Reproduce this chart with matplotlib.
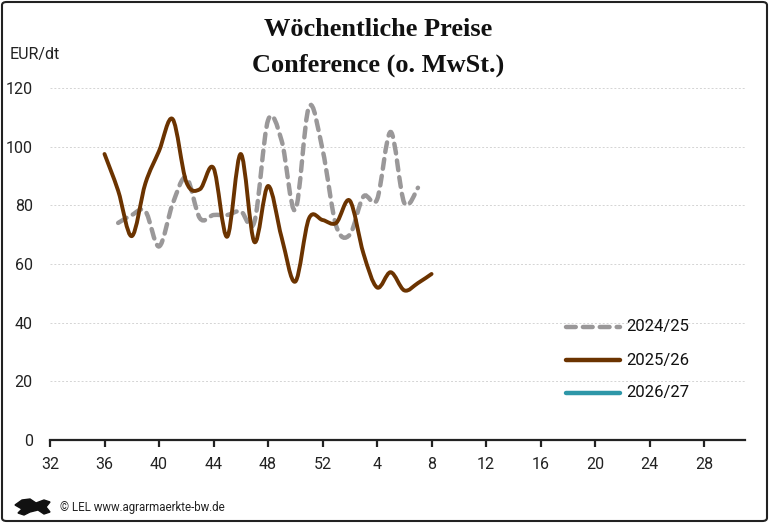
import numpy as np
import matplotlib
matplotlib.use("Agg")
import matplotlib.pyplot as plt
from matplotlib.path import Path
from matplotlib.patches import PathPatch, FancyBboxPatch, Polygon
from matplotlib.lines import Line2D

# season axis: week 32 .. 52, 1 .. 31
tick_labels = ["32", "36", "40", "44", "48", "52", "4", "8", "12", "16", "20", "24", "28"]
tick_pos = [0, 4, 8, 12, 16, 20, 24, 28, 32, 36, 40, 44, 48]

weeks_2425 = [37, 38, 39, 40, 41, 42, 43, 44, 45, 46, 47, 48, 49, 50, 51, 52, 1, 2, 3, 4, 5, 6, 7]
vals_2425 = [74, 76.7, 78, 66, 80.5, 89.5, 75.6, 76.7, 76.7, 78, 74.4, 109, 102, 78.4,
             113.6, 99, 73, 70, 83, 82, 105, 80.8, 86]

weeks_2526 = [36, 37, 38, 39, 40, 41, 42, 43, 44, 45, 46, 47, 48, 49, 50, 51, 52, 1, 2, 3, 4, 5, 6, 7, 8]
vals_2526 = [97.5, 85, 69.5, 87.5, 98.5, 109.4, 88, 85.5, 92.7, 69.3, 97.5, 67.5, 86.6, 69,
             54, 75.5, 75, 74, 81.6, 63.6, 52, 57.2, 51, 53.5, 56.6]

weeks_2627 = []
vals_2627 = []

col_2425 = "#9a9899"
col_2526 = "#6b3300"
col_2627 = "#2e97a8"


def season_idx(weeks):
    return [w - 32 if w >= 32 else w + 20 for w in weeks]


def smooth_path(x, y):
    # Excel-like smoothed line as cubic bezier segments
    pts = np.column_stack([x, y]).astype(float)
    n = len(pts)
    verts = [pts[0]]
    codes = [Path.MOVETO]
    for i in range(n - 1):
        p0 = pts[i - 1] if i > 0 else pts[i]
        p1 = pts[i]
        p2 = pts[i + 1]
        p3 = pts[i + 2] if i + 2 < n else pts[i + 1]
        c1 = p1 + (p2 - p0) / 6.0
        c2 = p2 - (p3 - p1) / 6.0
        verts += [c1, c2, p2]
        codes += [Path.CURVE4] * 3
    return Path(verts, codes)


fig = plt.figure(figsize=(7.69, 5.23), dpi=100)
ax = fig.add_axes([50 / 769, 1 - 440 / 523, 695 / 769, 352 / 523])
ax.set_xlim(0, 51)
ax.set_ylim(0, 120)

for s in ["top", "right", "left"]:
    ax.spines[s].set_visible(False)
ax.spines["bottom"].set_color("#222222")
ax.spines["bottom"].set_linewidth(1.6)
ax.set_yticks([0, 20, 40, 60, 80, 100, 120])
ax.set_yticklabels(["0", "20", "40", "60", "80", "100", "120"], fontsize=11.5, family="Roboto", color="#222222")
ax.tick_params(axis="y", length=0, pad=12.5)
ax.set_xticks(tick_pos)
ax.set_xticklabels(tick_labels, fontsize=11.5, family="Roboto", color="#222222")
ax.tick_params(axis="x", length=5, width=1.6, color="#222222", pad=7.5)
for yv in [20, 40, 60, 80, 100, 120]:
    ax.axhline(yv, color="#d4d4d4", lw=0.7, ls=(0, (2, 2)), zorder=0)

p1 = PathPatch(smooth_path(season_idx(weeks_2425), vals_2425), fill=False, edgecolor=col_2425,
               lw=3.2, linestyle=(0, (2.2, 1.6)), capstyle="round", clip_on=False, zorder=3)
ax.add_patch(p1)
p2 = PathPatch(smooth_path(season_idx(weeks_2526), vals_2526), fill=False, edgecolor=col_2526,
               lw=2.8, capstyle="round", joinstyle="round", clip_on=False, zorder=4)
ax.add_patch(p2)

# legend
leg = [("2024/25", col_2425, (0, (2.2, 1.6)), 327), ("2025/26", col_2526, "-", 360), ("2026/27", col_2627, "-", 393)]
for lab, c, ls, py in leg:
    yy = 1 - py / 523
    fig.add_artist(Line2D([566 / 769, 620 / 769], [yy, yy], color=c, lw=3.2, ls=ls, solid_capstyle="round",
                          dash_capstyle="round"))
    fig.text(626 / 769, yy, lab, fontsize=12, family="Roboto", va="center", ha="left", color="#111111")

# titles
fig.text(378 / 769, 1 - 30 / 523, "Wöchentliche Preise", fontsize=19, family="Liberation Serif",
         weight="bold", ha="center", va="center", color="#111111")
fig.text(378 / 769, 1 - 65 / 523, "Conference (o. MwSt.)", fontsize=19, family="Liberation Serif",
         weight="bold", ha="center", va="center", color="#111111")
fig.text(10 / 769, 1 - 55 / 523, "EUR/dt", fontsize=11.5, family="Roboto", ha="left", va="center", color="#222222")

# footer
fig.text(60 / 769, 1 - 508 / 523, "© LEL www.agrarmaerkte-bw.de", fontsize=8.3,
         family="Roboto", ha="left", va="center", color="#222222")
lion = [(15, 505), (22, 500), (30, 499), (36, 503), (44, 500), (50, 502), (46, 507), (50, 512),
        (44, 514), (38, 510), (30, 512), (24, 515), (18, 513), (22, 509)]
fig.add_artist(Polygon([(x / 769, 1 - y / 523) for x, y in lion], closed=True, color="#111111",
                       transform=fig.transFigure))

# frame
fig.add_artist(FancyBboxPatch((2 / 769, 2 / 523), 765 / 769, 519 / 523, boxstyle="round,pad=0,rounding_size=0.006",
                              fill=False, edgecolor="#222222", lw=1.5, transform=fig.transFigure))

fig.savefig("out.png", dpi=100)
